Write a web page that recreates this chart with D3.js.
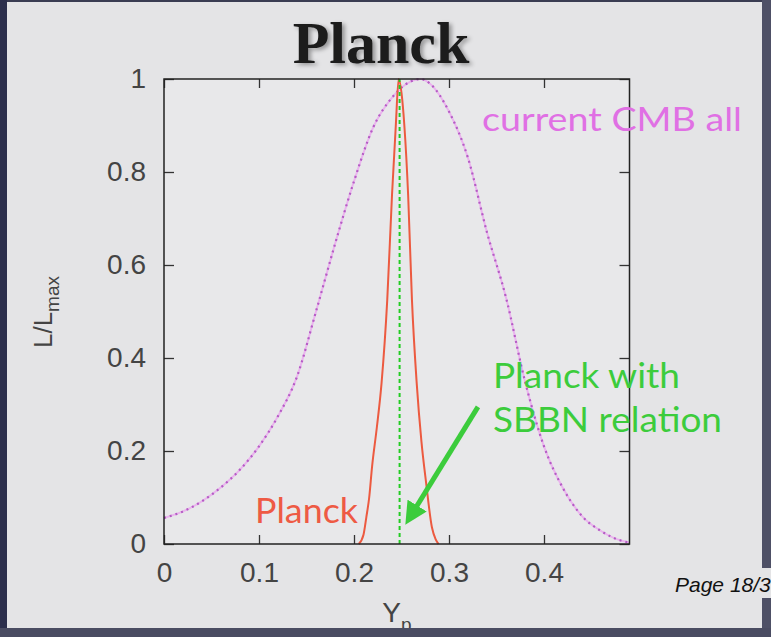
<!DOCTYPE html>
<html>
<head>
<meta charset="utf-8">
<script src="https://cdn.jsdelivr.net/npm/d3@7"></script>
<style>
  html, body { margin: 0; padding: 0; background: #e4e4e6; }
  svg { display: block; }
</style>
</head>
<body>
<svg width="771" height="637"></svg>
<script>
// current CMB all (magenta dotted)
const cmbX = [0.00, 0.02, 0.04, 0.06, 0.08, 0.10, 0.12, 0.14, 0.16, 0.18, 0.20, 0.22, 0.24, 0.26, 0.27, 0.28, 0.30, 0.32, 0.34, 0.36, 0.38, 0.40, 0.42, 0.44, 0.46, 0.48, 0.49]
const cmbL = [0.056, 0.07, 0.092, 0.122, 0.16, 0.21, 0.275, 0.36, 0.50, 0.645, 0.78, 0.895, 0.96, 0.995, 1.0, 0.99, 0.93, 0.83, 0.67, 0.53, 0.35, 0.21, 0.12, 0.06, 0.028, 0.008, 0.003]

// Planck (red)
const planckX = [0.205, 0.210, 0.213, 0.216, 0.219, 0.224, 0.229, 0.235, 0.240, 0.244, 0.247, 0.250, 0.253, 0.257, 0.261, 0.266, 0.271, 0.276, 0.282, 0.286, 0.289]
const planckL = [0.0, 0.02, 0.058, 0.1, 0.166, 0.25, 0.346, 0.525, 0.75, 0.9, 1.0, 0.97, 0.9, 0.75, 0.525, 0.346, 0.22, 0.13, 0.036, 0.01, 0.0]

// Planck with SBBN relation (green dashed vertical)
const sbbnYp = 0.248

const xTicks = [0, 0.1, 0.2, 0.3, 0.4]
const yTicks = [0, 0.2, 0.4, 0.6, 0.8, 1]
const xTickLabels = ['0', '0.1', '0.2', '0.3', '0.4']
const yTickLabels = ['0', '0.2', '0.4', '0.6', '0.8', '1']

// annotation anchors in data units
const arrowFrom = [0.3305, 0.295]
const arrowTo = [0.259, 0.058]

const svg = d3.select('svg')
const W = 771, H = 637
const pLeft = 164, pRight = 629.5, pTop = 79, pBottom = 544

const x = d3.scaleLinear().domain([0, 0.49]).range([pLeft, pRight])
const y = d3.scaleLinear().domain([0, 1]).range([pBottom, pTop])

const defs = svg.append('defs')
const f = defs.append('filter').attr('id', 'shadow').attr('x', '-10%').attr('y', '-20%').attr('width', '130%').attr('height', '150%')
f.append('feGaussianBlur').attr('in', 'SourceAlpha').attr('stdDeviation', 2).attr('result', 'b')
f.append('feOffset').attr('in', 'b').attr('dx', 3).attr('dy', 2).attr('result', 'o')
f.append('feComponentTransfer').attr('in', 'o').attr('result', 'o2')
    .append('feFuncA').attr('type', 'linear').attr('slope', 0.35)
const m = f.append('feMerge')
m.append('feMergeNode').attr('in', 'o2')
m.append('feMergeNode').attr('in', 'SourceGraphic')

defs.append('marker')
    .attr('id', 'arrowhead')
    .attr('viewBox', '0 0 10 10')
    .attr('refX', 6).attr('refY', 5)
    .attr('markerWidth', 4.5).attr('markerHeight', 4.5)
    .attr('orient', 'auto')
    .append('path')
    .attr('d', 'M0,0 L10,5 L0,10 z')
    .attr('fill', '#3ccc3c')

// slide background
svg.append('rect').attr('x', 0).attr('y', 0).attr('width', W).attr('height', H).attr('fill', '#e4e4e6')
svg.append('rect').attr('x', pLeft).attr('y', pTop).attr('width', pRight - pLeft).attr('height', pBottom - pTop).attr('fill', '#e8e8ea')

// title
svg.append('text')
    .attr('x', 381).attr('y', 63)
    .attr('text-anchor', 'middle')
    .attr('font-family', '"Liberation Serif", "DejaVu Serif", serif')
    .attr('font-weight', 'bold')
    .attr('font-size', 60)
    .attr('fill', '#1a1a1a')
    .attr('filter', 'url(#shadow)')
    .text('Planck')

// curves
const line = d3.line()
    .x(d => x(d[0]))
    .y(d => y(d[1]))
    .curve(d3.curveMonotoneX)

const cmbPts = cmbX.map((v, i) => [v, cmbL[i]])
svg.append('path')
    .attr('d', line(cmbPts))
    .style('fill', 'none')
    .style('stroke', '#eab4ee')
    .style('stroke-width', 2)
svg.append('path')
    .attr('d', line(cmbPts))
    .style('fill', 'none')
    .style('stroke', '#b45cc4')
    .style('stroke-width', 2.2)
    .style('stroke-dasharray', '2,4')

const planckPts = planckX.map((v, i) => [v, planckL[i]])
svg.append('path')
    .attr('d', line(planckPts))
    .style('fill', 'none')
    .style('stroke', '#ec5a40')
    .style('stroke-width', 2)

svg.append('line')
    .attr('x1', x(sbbnYp)).attr('x2', x(sbbnYp))
    .attr('y1', y(0)).attr('y2', y(1))
    .style('stroke', '#22cc22')
    .style('stroke-width', 2)
    .style('stroke-dasharray', '4,3')

// axes with inward ticks on all sides
function styleAxis(g) {
    g.select('.domain').remove()
    g.selectAll('.tick line').attr('stroke', '#333').attr('stroke-width', 1.3)
    g.selectAll('.tick text')
        .attr('font-family', '"Liberation Sans", Arial, sans-serif')
        .attr('font-size', 28)
        .attr('fill', '#444')
}

svg.append('g')
    .attr('transform', `translate(0,${pBottom})`)
    .call(d3.axisBottom(x).tickValues(xTicks).tickFormat((d, i) => xTickLabels[i]).tickSize(-9).tickPadding(18))
    .call(styleAxis)

svg.append('g')
    .attr('transform', `translate(0,${pTop})`)
    .call(d3.axisTop(x).tickValues(xTicks).tickFormat('').tickSize(-9))
    .call(styleAxis)

svg.append('g')
    .attr('transform', `translate(${pLeft},0)`)
    .call(d3.axisLeft(y).tickValues(yTicks).tickFormat((d, i) => yTickLabels[i]).tickSize(-10).tickPadding(18))
    .call(styleAxis)

svg.append('g')
    .attr('transform', `translate(${pRight},0)`)
    .call(d3.axisRight(y).tickValues(yTicks).tickFormat('').tickSize(-10))
    .call(styleAxis)

svg.append('rect')
    .attr('x', pLeft).attr('y', pTop)
    .attr('width', pRight - pLeft).attr('height', pBottom - pTop)
    .style('fill', 'none')
    .style('stroke', '#222')
    .style('stroke-width', 1.5)

// axis titles
const yl = svg.append('text')
    .attr('transform', 'translate(52,312) rotate(-90)')
    .attr('text-anchor', 'middle')
    .attr('font-family', '"Liberation Sans", Arial, sans-serif')
    .attr('font-size', 26)
    .attr('fill', '#444')
yl.append('tspan').text('L/L')
yl.append('tspan').attr('font-size', 19).attr('dy', 7).text('max')

const xl = svg.append('text')
    .attr('x', 397).attr('y', 622)
    .attr('text-anchor', 'middle')
    .attr('font-family', '"Liberation Sans", Arial, sans-serif')
    .attr('font-size', 28)
    .attr('fill', '#444')
xl.append('tspan').text('Y')
xl.append('tspan').attr('font-size', 19).attr('dy', 9).text('p')

// annotations
const annFont = 'Lato, "Open Sans", sans-serif'
function ann(txt, px, py, size, len, color) {
    svg.append('text')
        .attr('x', px).attr('y', py)
        .attr('font-family', annFont)
        .attr('font-size', size)
        .attr('textLength', len)
        .attr('lengthAdjust', 'spacingAndGlyphs')
        .attr('fill', color)
        .text(txt)
}
ann('current CMB all', 482, 131, 32, 260, '#e070e4')
ann('Planck', 255, 523, 35, 103, '#ee5a44')
ann('Planck with', 493, 388, 35, 187, '#3ccc3c')
ann('SBBN relation', 493, 432, 35, 229, '#3ccc3c')

svg.append('line')
    .attr('x1', x(arrowFrom[0])).attr('y1', y(arrowFrom[1]))
    .attr('x2', x(arrowTo[0])).attr('y2', y(arrowTo[1]))
    .style('stroke', '#3ccc3c')
    .style('stroke-width', 5)
    .attr('marker-end', 'url(#arrowhead)')

// dark window border
const borderG = svg.append('g')
borderG.append('rect').attr('x', 0).attr('y', 0).attr('width', W).attr('height', 2).attr('fill', '#3a3c52')
borderG.append('rect').attr('x', 0).attr('y', 0).attr('width', 7).attr('height', H).attr('fill', '#2c2f4c')
borderG.append('rect').attr('x', 762).attr('y', 0).attr('width', 9).attr('height', H).attr('fill', '#4e5066')
borderG.append('rect').attr('x', 0).attr('y', 628).attr('width', W).attr('height', 9).attr('fill', '#4a4c62')

// page footer (overlay, drawn over the border)
svg.append('rect').attr('x', 762).attr('y', 568).attr('width', 9).attr('height', 30).attr('fill', '#e4e4e6')
svg.append('text')
    .attr('x', 675).attr('y', 592)
    .attr('font-family', '"Liberation Sans", Arial, sans-serif')
    .attr('font-style', 'italic')
    .attr('font-size', 21)
    .attr('fill', '#111')
    .text('Page 18/3')
</script>
</body>
</html>
